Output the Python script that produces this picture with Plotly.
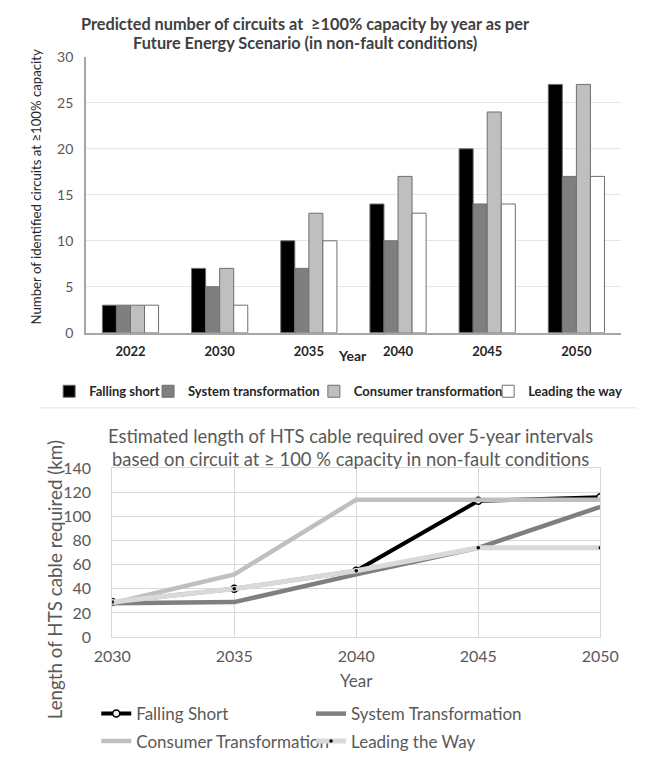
import plotly.graph_objects as go

W, H = 656, 765


def px(x):
    return x / W


def py(y):
    return 1 - y / H


# ---------------- data ----------------
bar_years = ["2022", "2030", "2035", "2040", "2045", "2050"]
bar_names = ["Falling short", "System transformation", "Consumer transformation", "Leading the way"]
bar_falling_short = [3, 7, 10, 14, 20, 27]
bar_system = [3, 5, 7, 10, 14, 17]
bar_consumer = [3, 7, 13, 17, 24, 27]
bar_leading = [3, 3, 10, 13, 14, 17]

line_years = [2030, 2035, 2040, 2045, 2050]
line_names = ["Falling Short", "System Transformation", "Consumer Transformation", "Leading the Way"]
km_falling_short = [29, 40, 55, 113, 116]
km_system = [28, 29, 52, 74, 108]
km_consumer = [28, 52, 114, 114, 114]
km_leading = [29, 40, 55, 74, 74]

FONT = "Lato"
DARK = "#404040"
GREY = "#595959"

fig = go.Figure()

bar_values = [bar_falling_short, bar_system, bar_consumer, bar_leading]
bar_colors = ["#000000", "#7f7f7f", "#bfbfbf", "#ffffff"]
bar_legends = ["legend", "legend2", "legend3", "legend4"]
for name, vals, col, lg in zip(bar_names, bar_values, bar_colors, bar_legends):
    fig.add_trace(go.Bar(
        x=bar_years, y=vals, name=name, legend=lg,
        marker=dict(color=col, line=dict(color="#6f6f6f", width=1)),
        xaxis="x", yaxis="y",
    ))

line_values = [km_falling_short, km_system, km_consumer, km_leading]
line_colors = ["#000000", "#7f7f7f", "#bfbfbf", "#d9d9d9"]
line_widths = [4, 4.5, 4.5, 5]
line_legends = ["legend5", "legend6", "legend7", "legend8"]
line_markers = [
    dict(symbol="circle", size=7, color="#f2f2f2", line=dict(color="#000000", width=1.5)),
    dict(size=1, color="#7f7f7f"),
    dict(size=1, color="#bfbfbf"),
    dict(symbol="circle", size=3.5, color="#000000"),
]
line_modes = ["lines+markers", "lines", "lines", "lines+markers"]
for name, vals, col, lw, lg, mk, md in zip(line_names, line_values, line_colors, line_widths,
                                           line_legends, line_markers, line_modes):
    fig.add_trace(go.Scatter(
        x=line_years, y=vals, name=name, legend=lg, mode=md,
        line=dict(color=col, width=lw), marker=mk,
        xaxis="x2", yaxis="y2",
    ))

# legends positioned item by item
LEG_OFF = 44
bar_leg_font = dict(family=FONT, size=13, color="#262626", weight="bold")
bar_text_x = [76, 181, 357, 542]
line_leg_font = dict(family=FONT, size=17, color=GREY)
line_text_pos = [(126, 722), (354, 722), (126, 750), (354, 750)]

legend_layout = {}
for lg, tx in zip(bar_legends, bar_text_x):
    legend_layout[lg] = dict(
        x=px(tx - LEG_OFF), y=py(391), xanchor="left", yanchor="middle",
        orientation="h", font=bar_leg_font, bgcolor="rgba(0,0,0,0)",
        borderwidth=0,
    )
for lg, (tx, ty) in zip(line_legends, line_text_pos):
    legend_layout[lg] = dict(
        x=px(tx - LEG_OFF), y=py(ty), xanchor="left", yanchor="middle",
        orientation="h", font=line_leg_font, bgcolor="rgba(0,0,0,0)",
        borderwidth=0,
    )


def ann(text, x, y, size, color, weight="normal", angle=0):
    return dict(text=text, x=px(x), y=py(y), xref="paper", yref="paper",
                showarrow=False, xanchor="center", yanchor="middle", textangle=angle,
                font=dict(family=FONT, size=size, color=color, weight=weight))


annotations = [
    ann("Predicted number of circuits at  ≥100% capacity by year as per", 304, 14, 16.3, DARK, "bold"),
    ann("Future Energy Scenario (in non-fault conditions)", 304, 33, 16.3, DARK, "bold"),
    ann("Number of identified circuits at ≥100% capacity", 18, 181, 13.2, "#262626", angle=-90),
    ann("Year", 354, 354, 14, "#262626", "bold"),
    ann("Estimated length of HTS cable required over 5-year intervals", 352, 437, 18.4, GREY),
    ann("based on circuit at ≥ 100 % capacity in non-fault conditions", 352, 460, 18.4, GREY),
    ann("Length of HTS cable required (km)", 38, 584, 18.8, GREY, angle=-90),
    ann("Year", 358, 688, 17, GREY),
]

shapes = [
    dict(type="line", xref="paper", yref="paper", x0=px(21), x1=1, y0=py(408), y1=py(408),
         line=dict(color="#e3e3e3", width=1)),
]

fig.update_layout(
    width=W, height=H,
    margin=dict(l=0, r=0, t=0, b=0),
    paper_bgcolor="white", plot_bgcolor="white",
    font=dict(family=FONT, color=GREY),
    barmode="group", bargap=0.37, bargroupgap=0,
    showlegend=True,
    annotations=annotations,
    shapes=shapes,
    xaxis=dict(
        domain=[px(71), px(639)], anchor="y", type="category",
        showline=True, linecolor="#a6a6a6", linewidth=1.5,
        ticks="", ticklabelstandoff=6,
        tickfont=dict(family=FONT, size=13, color="#262626", weight="bold"),
        showgrid=False, zeroline=False,
    ),
    yaxis=dict(
        domain=[py(331), py(48)], anchor="x", range=[0, 30], dtick=5,
        showline=True, linecolor="#a6a6a6", linewidth=1.5,
        showgrid=True, gridcolor="#e6e6e6", gridwidth=1, zeroline=False,
        ticks="", ticklabelstandoff=8,
        tickfont=dict(family=FONT, size=14, color=GREY),
    ),
    xaxis2=dict(
        domain=[px(99), px(617)], anchor="y2", range=[2030, 2050], dtick=5,
        showline=True, mirror=True, linecolor="#d9d9d9", linewidth=1,
        showgrid=True, gridcolor="#d9d9d9", gridwidth=1, zeroline=False,
        ticks="", ticklabelstandoff=5,
        tickfont=dict(family=FONT, size=16, color=GREY),
    ),
    yaxis2=dict(
        domain=[py(643), py(470)], anchor="x2", range=[0, 140], dtick=20,
        showline=True, mirror=True, linecolor="#d9d9d9", linewidth=1,
        showgrid=True, gridcolor="#d9d9d9", gridwidth=1, zeroline=False,
        ticks="", ticklabelstandoff=17,
        tickfont=dict(family=FONT, size=16, color=GREY),
    ),
    **legend_layout,
)

fig.write_html("out.html")
